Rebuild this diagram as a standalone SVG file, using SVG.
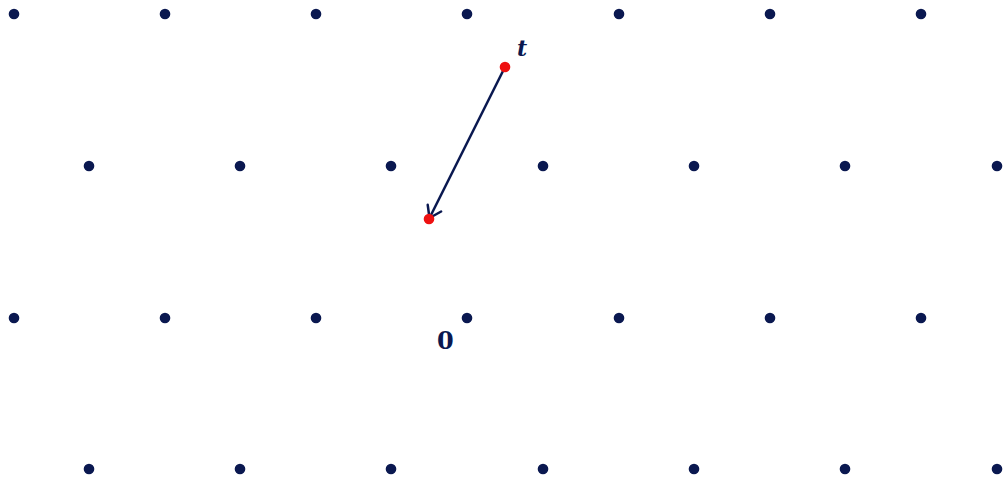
<svg xmlns="http://www.w3.org/2000/svg" width="1003" height="477" viewBox="0 0 1003 477">
<defs>
<style>
.d{fill:#0a1850}
.r{fill:#ee1111}
.lbl{fill:#0a1850;font-family:"DejaVu Serif",serif;font-weight:bold}
</style>
<marker id="ah" viewBox="0 0 20 20" refX="16" refY="10" markerWidth="20" markerHeight="20" markerUnits="userSpaceOnUse" orient="auto">
<path d="M5,2.5 L16,10 L5,17.5" fill="none" stroke="#0a1850" stroke-width="2.5" stroke-linecap="round" stroke-linejoin="round"/>
</marker>
</defs>
<rect width="1003" height="477" fill="#ffffff"/>
<g id="lattice">
<circle class="d" cx="14" cy="14" r="5.3"/><circle class="d" cx="165" cy="14" r="5.3"/><circle class="d" cx="316" cy="14" r="5.3"/><circle class="d" cx="467" cy="14" r="5.3"/><circle class="d" cx="619" cy="14" r="5.3"/><circle class="d" cx="770" cy="14" r="5.3"/><circle class="d" cx="921" cy="14" r="5.3"/>
<circle class="d" cx="89" cy="166" r="5.3"/><circle class="d" cx="240" cy="166" r="5.3"/><circle class="d" cx="391" cy="166" r="5.3"/><circle class="d" cx="543" cy="166" r="5.3"/><circle class="d" cx="694" cy="166" r="5.3"/><circle class="d" cx="845" cy="166" r="5.3"/><circle class="d" cx="997" cy="166" r="5.3"/>
<circle class="d" cx="14" cy="318" r="5.3"/><circle class="d" cx="165" cy="318" r="5.3"/><circle class="d" cx="316" cy="318" r="5.3"/><circle class="d" cx="467" cy="318" r="5.3"/><circle class="d" cx="619" cy="318" r="5.3"/><circle class="d" cx="770" cy="318" r="5.3"/><circle class="d" cx="921" cy="318" r="5.3"/>
<circle class="d" cx="89" cy="469" r="5.3"/><circle class="d" cx="240" cy="469" r="5.3"/><circle class="d" cx="391" cy="469" r="5.3"/><circle class="d" cx="543" cy="469" r="5.3"/><circle class="d" cx="694" cy="469" r="5.3"/><circle class="d" cx="845" cy="469" r="5.3"/><circle class="d" cx="997" cy="469" r="5.3"/>
</g>
<g id="connectors">
<line x1="505" y1="67" x2="429.5" y2="218" stroke="#0a1850" stroke-width="2.5" marker-end="url(#ah)"/>
</g>
<g id="point-t">
<circle class="r" cx="505" cy="67" r="5.3"/>
<text class="lbl" x="517" y="56" font-size="22" font-style="italic">t</text>
</g>
<g id="point-end">
<circle class="r" cx="429" cy="219" r="5.3"/>
</g>
<g id="label-0">
<text class="lbl" x="437" y="349" font-size="24">0</text>
</g>
</svg>
